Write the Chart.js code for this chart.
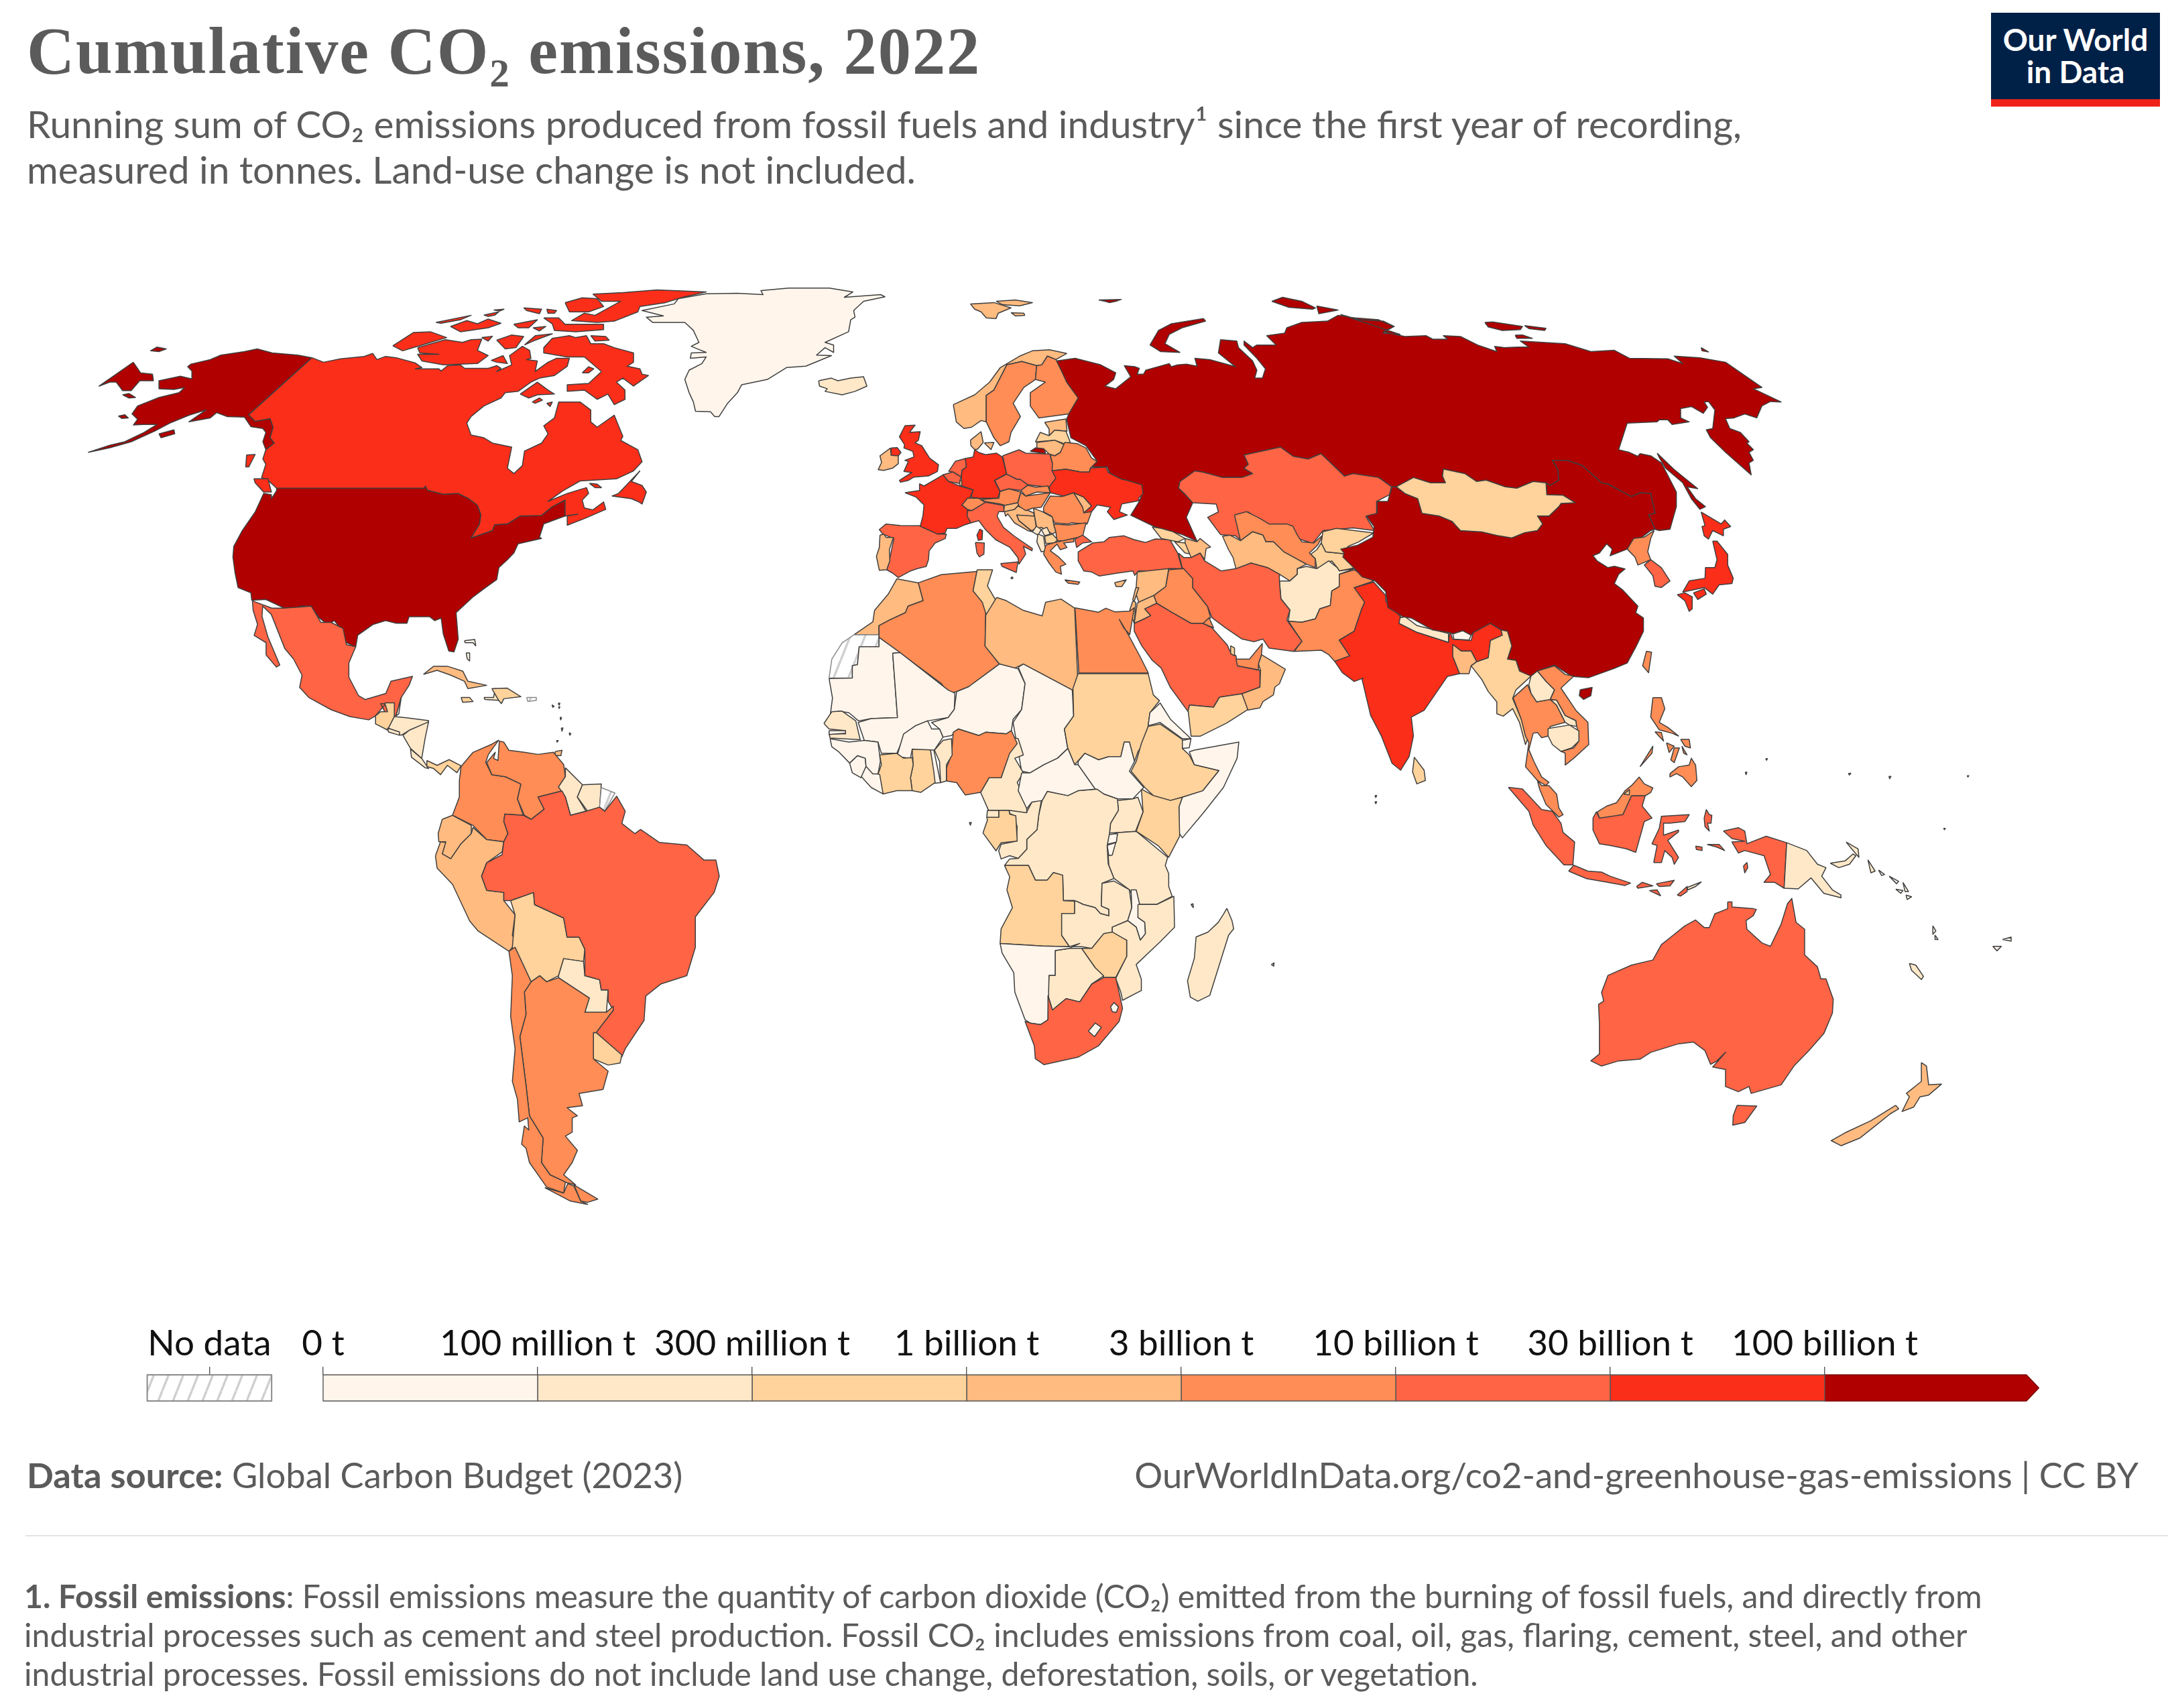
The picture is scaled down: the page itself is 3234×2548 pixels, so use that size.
<!DOCTYPE html>
<html><head><meta charset="utf-8">
<script src="https://cdn.jsdelivr.net/npm/chart.js@4/dist/chart.umd.min.js"></script>
<style>
html,body{margin:0;padding:0;background:#fff;width:3234px;height:2548px;overflow:hidden}
body{position:relative;font-family:Lato,sans-serif;color:#5b5b5b}
.t{position:absolute;white-space:nowrap}
canvas{position:absolute;left:0}
#title{left:40px;top:21px;font:bold 98.5px/110px "Liberation Serif",serif;letter-spacing:1.95px}
#sub{left:40px;top:150px;font-size:56.8px;line-height:68px}
#src{left:40px;top:2170px;font-size:52.5px;line-height:60px}
#url{right:44px;top:2170px;font-size:52.5px;line-height:60px}
#rule{position:absolute;left:38px;right:0;top:2290px;height:2px;background:#e3e3e3}
#note{left:36px;top:2352px;font-size:48.1px;line-height:58px}
#logo{position:absolute;left:2970px;top:19px;width:252px;height:140px;background:#002147;border-bottom:0}
#logo i{position:absolute;left:0;right:0;bottom:0;height:11px;background:#ef2218}
#logo div{position:absolute;left:0;width:100%;text-align:center;color:#fff;font-weight:bold;font-size:46px;line-height:48px}
</style></head><body>
<div class="t" id="title">Cumulative CO₂ emissions, 2022</div>
<div class="t" id="sub">Running sum of CO₂ emissions produced from fossil fuels and industry¹ since the first year of recording,<br>measured in tonnes. Land-use change is not included.</div>
<div id="logo"><div style="top:16px">Our World</div><div style="top:64px">in Data</div><i></i></div>
<canvas id="map" width="3234" height="1520" style="top:380px;width:3234px;height:1520px"></canvas>
<canvas id="leg" width="3234" height="140" style="top:1965px;width:3234px;height:140px"></canvas>
<div class="t" id="src"><b>Data source:</b> Global Carbon Budget (2023)</div>
<div class="t" id="url">OurWorldInData.org/co2-and-greenhouse-gas-emissions | CC BY</div>
<div id="rule"></div>
<div class="t" id="note"><b>1. Fossil emissions</b>: Fossil emissions measure the quantity of carbon dioxide (CO₂) emitted from the burning of fossil fuels, and directly from<br>industrial processes such as cement and steel production. Fossil CO₂ includes emissions from coal, oil, gas, flaring, cement, steel, and other<br>industrial processes. Fossil emissions do not include land use change, deforestation, soils, or vegetation.</div>
<script>
// ---------- legend data ----------
const binLabels=['0 t','100 million t','300 million t','1 billion t','3 billion t','10 billion t','30 billion t','100 billion t'];
const binColors=['#fff5eb','#fee8c8','#ffd39b','#ffbb80','#ff8d55','#ff6445','#fb2e19','#b00000'];
const noDataLabel='No data';
// ---------- traced country outlines: [name, emissions bin (null = no data), outline] ----------
// Outlines are read off the picture, in the units of the survey sheet named at the end of each list or by a letter code inside.
const surveySheets={NA:[100,400,1000,620,1568,1568],EU:[1100,400,1000,620,1568,1568],AS:[2000,400,1000,620,1568,1568],SA:[300,880,800,950,1568,1568],AF:[1200,850,800,760,1568,1568],EC:[1300,600,500,350,1500,1050],OC:[2000,950,1000,800,1568,1568],ME:[1500,700,700,400,1568,1200]};
const northAmerica=[
['USA',7,[490,830,835,830,838,822,843,838,880,853,915,850,940,870,960,895,968,930,965,965,945,1018,995,990,1000,968,1030,965,1060,935,1110,933,1135,900,1165,875,1165,935,1115,965,1105,1015,1110,1020,1055,1040,1045,1075,1030,1100,1010,1130,1005,1175,975,1210,950,1240,910,1300,915,1400,905,1448,893,1445,880,1380,875,1320,860,1330,848,1315,800,1315,795,1340,770,1340,745,1330,715,1345,680,1385,675,1430,650,1410,640,1360,625,1330,610,1345,590,1320,570,1275,545,1275,540,1290,515,1288,465,1250,432,1253,430,1225,400,1205,393,1150,388,1090,390,1050,410,990,440,920,460,850,478,855,478,870,490,840]],
['Alaska',7,[573,338,540,328,480,320,445,305,415,315,360,328,335,345,290,362,282,372,292,388,292,418,265,408,215,425,215,455,250,458,275,450,262,470,215,488,165,520,152,550,165,570,155,592,178,590,210,590,180,620,135,655,100,668,50,695,100,678,150,655,205,615,240,585,285,555,325,535,285,580,335,565,350,545,375,560,415,562,430,598,458,605,465,620,458,655,465,685,485,660,475,640,482,600,475,568,440,578,425,553]],
['Alaska Seward',7,[155,355,172,395,200,400,202,425,170,425,150,462,130,462,115,430,100,430,75,445]],
['St Lawrence',7,[195,312,210,298,232,305,215,315]],['Nunivak',7,[130,478,145,473,160,488,145,490]],['Unimak',7,[120,558,135,553,143,565,128,567]],['Kodiak',7,[215,625,250,610,252,625,220,640]],
['Canada',6,[573,338,600,355,640,342,695,333,715,322,725,345,745,333,770,338,815,358,830,375,815,380,870,380,875,388,890,368,920,365,930,378,985,378,1005,368,1015,378,1005,390,1040,365,1035,330,1065,295,1082,310,1085,340,1075,345,1100,350,1095,390,1125,355,1145,340,1175,340,1170,370,1140,405,1105,415,1085,430,1055,465,1025,470,1015,490,975,520,945,560,935,585,945,630,975,640,995,660,1040,675,1030,755,1045,775,1065,745,1070,690,1110,660,1125,625,1115,595,1140,565,1150,505,1200,505,1225,535,1225,580,1240,600,1280,555,1300,635,1295,650,1335,685,1345,730,1325,765,1285,795,1200,803,1160,840,1125,880,1170,850,1215,828,1220,850,1205,875,1210,905,1230,912,1255,882,1260,910,1210,945,1170,970,1170,935,1195,928,1165,935,1165,875,1135,900,1110,933,1060,935,1030,965,1000,968,995,990,945,1018,965,965,968,930,960,895,940,870,915,850,880,853,843,838,838,822,835,830,490,830,470,800,455,790,465,740,458,720,465,685,485,660,475,640,482,600,475,568,440,578,425,553]],
['Vancouver Is',6,[437,795,470,795,478,845,460,845,440,810]],['Haida Gwaii',6,[420,705,440,703,425,750,418,750]],
['Newfoundland',6,[1340,765,1290,850,1275,860,1320,870,1335,880,1345,890,1355,845,1345,820,1320,805]],['Anticosti',6,[1222,812,1240,815,1250,828,1235,828]],
['Baffin',6,[1115,300,1135,265,1175,255,1190,262,1215,255,1225,285,1255,285,1280,300,1325,320,1325,355,1310,370,1340,380,1345,400,1360,405,1325,445,1300,415,1285,430,1305,460,1305,495,1280,515,1265,475,1240,495,1210,460,1170,465,1170,440,1220,435,1250,390,1210,335,1170,335,1115,320]],
['Ellesmere',6,[1230,98,1300,92,1380,82,1495,90,1440,110,1400,130,1340,145,1335,165,1280,200,1240,205,1180,198,1210,170,1235,178,1295,125,1250,125]],
['Axel Heiberg',6,[1165,130,1205,112,1240,115,1255,145,1220,165,1175,165]],['Devon',6,[1115,188,1150,188,1165,212,1255,212,1255,232,1190,240,1140,235,1135,210]],
['Victoria',6,[820,300,885,270,925,280,945,270,970,268,960,310,985,330,960,360,880,365,830,350,820,325,870,325,825,320]],['Banks',6,[762,293,810,243,850,240,888,262,830,290,785,312]],
['Melville',6,[897,220,935,198,960,210,985,192,1015,208,985,225,920,240]],['Bathurst',6,[863,205,945,178,920,195,875,208]],['Arctic a',6,[975,177,1010,165,1000,178,985,182]],['Arctic b',6,[998,158,1022,155,1012,162]],['Arctic c',6,[1045,212,1100,195,1080,225,1055,225]],['Arctic d',6,[1090,225,1120,220,1105,237]],['Arctic e',6,[1068,150,1110,155,1105,172,1075,160]],['Arctic f',6,[1122,155,1145,160,1140,170,1125,170]],['Somerset',6,[1005,272,1040,252,1068,258,1050,300,1025,305]],['Pr Wales',6,[970,262,995,257,985,275]],['Boothia',6,[1070,290,1095,255,1135,248,1090,275]],['Bylot',6,[1225,255,1260,258,1268,272,1235,275]],['King William',6,[992,348,1020,330,1030,360,1005,355]],['Southampton',6,[1060,475,1100,430,1125,460,1140,475,1100,478,1080,490]],['Coats',6,[1088,505,1105,490,1112,498,1095,510]],['Mansel',6,[1122,510,1135,505,1130,522]],['Pr Charles',6,[1205,395,1220,372,1232,380,1220,395]]
];
const greenlandArea=[
['Greenland',0,['EU',-73,97,-138,115,-148,135,-223,160,-173,180,-213,185,-198,205,-123,205,-103,235,-90,280,-108,295,-93,305,-73,318,-108,320,-110,340,-73,335,-83,360,-113,385,-123,420,-113,470,-103,505,-98,540,-63,542,-53,560,-43,560,-23,510,0,470,10,440,70,420,115,375,160,370,220,330,185,328,205,300,225,318,225,290,205,280,260,240,265,195,275,185,272,160,295,125,345,108,335,100,250,110,270,90,215,75,120,75,55,85,60,100,0,95]],
['Iceland',1,['EU',190,425,220,415,235,425,265,415,295,410,303,445,275,465,245,478,205,465,210,455,192,445]],
['Svalbard',3,['EU',545,135,600,130,640,150,610,170,605,190,582,188,570,165,555,155]],['Svalbard N',3,['EU',605,125,650,120,690,130,660,142,620,138]],['Edgeoya',3,['EU',640,168,670,170,672,178,650,180]]
];
const northernEurasia=[
['Russia',7,['EU',745,350,790,340,850,365,885,395,880,420,860,445,885,455,920,410,905,368,930,372,940,378,935,400,950,400,955,385,1010,360,1015,372,1030,365,1050,362,1075,370,1070,340,1105,345,1165,372,1125,320,1130,270,1168,275,1172,300,1205,350,1215,385,1210,415,1228,415,1235,380,1215,340,1185,290,1185,275,1205,300,1215,290,1260,290,1238,255,1280,245,1285,225,1320,205,1380,200,1405,178,1445,188,1500,195,1535,220,1510,245,1550,250,'AS',0,175,45,195,100,200,125,220,100,240,150,258,200,255,215,268,250,268,240,255,280,258,320,290,365,315,360,295,385,300,415,298,440,298,420,275,525,285,585,315,640,310,675,340,765,342,800,360,780,332,840,338,900,355,985,450,965,455,1030,505,1005,503,985,520,973,565,945,550,920,565,900,568,910,605,935,620,955,655,950,660,965,685,955,695,965,725,955,735,960,780,900,695,865,640,855,610,870,605,875,535,860,503,850,505,858,525,848,548,820,522,795,530,795,565,815,580,775,590,765,572,745,572,740,580,670,585,650,685,675,695,695,710,700,700,725,708,750,735,785,845,785,900,770,985,745,990,735,985,720,930,735,925,725,850,700,848,680,862,625,815,610,810,565,745,530,725,495,725,508,760,510,800,490,820,480,810,450,805,412,830,385,825,340,800,318,805,290,775,240,758,238,785,245,810,210,810,170,790,130,825,120,825,'EU',1530,825,1500,790,1440,775,1420,785,1365,700,1335,720,1300,710,1270,675,1185,705,1195,740,1185,755,1205,775,1180,790,1135,790,1090,770,1070,765,1035,805,1032,830,1045,850,1065,885,1050,940,1075,1030,1040,1005,975,975,920,932,940,880,945,860,945,820,875,790,865,750,830,750,840,725,815,670,780,640,770,570,775,550,795,490,770,430,760,395]],
['Franz Josef',7,['EU',845,120,898,118,885,125,870,130,860,125]],
['Novaya Zemlya',7,['EU',965,290,985,235,1015,210,1090,190,1095,200,1040,225,1010,250,1000,285,1035,318,990,315]],
['Severnaya a',7,['EU',1250,125,1275,110,1320,125,1352,150,1345,155,1290,148]],['Severnaya b',7,['EU',1355,143,1405,158,1360,172]],
['New Siberian a',7,['AS',337,205,355,203,425,220,420,232,378,235,345,222]],['New Siberian b',7,['AS',430,217,480,227,477,235,440,228]],['Lyakhovsky',7,['AS',408,253,425,252,448,265,412,265]],['Wrangel',7,['AS',843,300,860,316,845,312]],
['Sakhalin',7,['AS',740,698,780,760,835,832,810,825,830,870,853,900,840,910,820,870,800,810,760,755,745,715]],
['Norway',3,['EU',505,515,555,478,590,430,615,375,660,332,690,312,730,308,770,322,745,345,725,332,712,365,700,368,665,352,630,365,600,460,582,480,582,580,570,575,548,600,530,605,512,580]],
['Sweden',4,['EU',630,365,665,352,700,368,697,420,670,450,645,510,662,560,640,620,635,655,615,670,600,640,582,580,582,480,600,460]],
['Finland',4,['EU',712,365,725,332,745,345,760,395,770,430,797,490,775,550,705,565,685,520,685,470,720,430,697,420,700,368]],
['Kazakhstan',5,['EU',1035,805,1070,765,1090,770,1135,790,1180,790,1205,775,1185,755,1195,740,1185,705,1270,675,1300,710,1335,720,1365,700,1420,785,1440,775,1500,790,1530,825,1525,855,1495,880,1495,930,1470,938,1490,990,1440,980,1370,990,1345,1040,1330,1030,1300,1015,1280,965,1240,970,1195,920,1165,932,1180,1030,1165,1010,1130,1005,1100,940,1125,920,1120,890,1065,885,1045,850,1032,830]]
];
const europe=[
['Great Britain',6,[150,105,195,103,170,135,218,132,210,170,195,182,225,195,260,250,300,280,295,310,255,330,190,335,165,350,130,358,125,350,180,315,145,310,165,265,150,260,190,245,185,220,145,205,148,190,125,155]],
['N Ireland',6,[88,205,115,203,132,225,120,240,88,238]],['Ireland',3,[85,205,88,238,120,240,120,275,95,295,55,305,30,302,45,270,38,240]],
['Spain',5,[65,545,130,552,218,553,295,590,335,590,330,610,285,630,258,665,255,705,245,735,205,745,175,755,120,785,95,765,68,750,80,710,100,610,50,590,35,570]],
['Portugal',3,[38,595,55,590,65,605,98,605,80,660,82,710,68,750,35,752,22,690,35,650]],
['France',6,[150,405,215,395,215,365,235,375,295,340,320,325,345,355,395,375,455,392,440,430,405,460,430,480,428,510,445,540,415,550,380,565,338,565,330,585,295,590,218,555,230,510,235,460,200,425]],['Corsica',6,[485,568,497,575,495,615,478,618,472,595]],
['Belgium',5,[320,325,365,312,402,335,395,352,402,365,345,355]],['Netherlands',5,[345,310,375,265,420,252,425,290,405,305,402,335,365,312]],['Luxembourg',2,[395,352,408,352,408,373,395,372]],
['Germany',6,[462,212,480,225,510,235,560,228,585,245,605,320,550,350,575,400,565,430,480,430,445,425,455,392,405,375,402,335,405,305,425,290,420,252,455,245]],
['Denmark',3,[443,170,490,132,500,180,475,210,462,212,445,195]],['Zealand',3,[505,182,548,180,535,212]],
['Poland',5,[587,240,660,213,690,228,798,232,810,275,825,340,795,380,700,370,665,345,650,345,605,322]],['Kaliningrad',7,[710,220,735,204,775,208,778,230]],
['Czechia',5,[552,350,605,322,650,345,665,345,700,370,670,395,615,388,575,398]],['Austria',4,[490,435,570,430,575,400,615,388,668,402,655,450,600,462,575,455,510,445]],['Switzerland',4,[405,460,430,430,480,430,510,450,475,470,450,485,430,480]],
['Italy',5,[430,485,450,485,510,448,590,462,595,490,570,490,562,510,590,560,640,600,720,655,718,665,680,645,690,680,660,725,655,695,620,650,555,615,510,570,480,530,445,540,428,510]],['Sardinia',5,[465,628,505,630,503,680,483,692,472,675]],['Sicily',5,[578,722,655,715,648,762,585,735]],
['Slovenia',3,[595,462,655,450,660,458,640,480,608,495,592,490]],['Croatia',3,[595,490,640,480,655,465,725,495,730,515,650,505,660,530,720,580,700,575,640,540,610,500,600,510]],['Bosnia',3,[650,505,730,510,738,565,715,575,660,530]],
['Hungary',4,[655,450,668,405,690,420,800,405,760,470,720,475,690,485,660,465]],['Slovakia',4,[668,395,700,372,735,380,790,375,800,405,740,402,690,420]],
['Romania',4,[770,470,800,420,850,422,905,405,945,470,985,490,965,545,895,540,880,545,820,540,805,510,770,490]],['Moldova',3,[905,405,950,425,985,465,950,495,945,470]],
['Serbia',3,[725,475,765,490,810,515,815,545,825,580,810,590,785,575,760,560,740,565,730,510]],['Bulgaria',4,[815,545,880,550,960,540,950,580,945,600,905,610,860,620,830,620,825,580]],
['Montenegro',1,[720,580,738,555,760,570,745,595]],['Kosovo',1,[760,570,785,560,800,590,775,598]],['Albania',1,[745,590,770,600,775,635,780,665,760,670,740,625]],['N Macedonia',2,[775,600,810,590,832,615,820,630,780,632]],
['Greece',4,[780,640,820,628,905,610,905,625,860,630,875,650,845,660,830,635,800,665,840,695,870,725,845,735,850,770,825,760,795,720,770,680]],
['Turkey Thrace',5,[910,612,945,595,985,625,945,630,918,650]],
['Turkey',5,[925,670,990,630,1040,625,1065,605,1130,598,1175,615,1225,628,1270,612,1335,615,1370,675,1390,745,1335,745,1260,755,1195,755,1178,775,1170,755,1100,765,1020,778,985,760,950,755,925,710]],
['Cyprus',3,[1088,808,1140,795,1120,825,1095,825]],['Crete',4,[865,795,932,805,925,815,880,810]],['Malta',2,[625,783,632,783,632,790,625,790]],
['Estonia',3,[775,90,870,75,875,130,820,125,795,150,795,120]],['Latvia',2,[735,175,755,135,795,150,820,125,870,130,890,180,860,185,820,170,735,178]],['Lithuania',3,[740,180,820,170,862,190,845,225,820,240,795,232,770,208,740,205]],
['Belarus',4,[800,235,820,240,845,225,865,180,920,185,960,205,985,250,1010,265,980,295,975,313,935,312,870,300,808,307,810,275]],
['Ukraine',6,[795,380,825,340,808,307,870,300,935,312,975,313,980,295,1050,290,1060,315,1120,345,1145,350,1210,370,1215,410,1195,430,1200,440,1120,455,1110,490,1145,505,1085,525,1055,490,1070,470,1010,460,985,490,950,495,985,465,950,425,905,405,860,420,800,405]]
];
const westAsia=[
['Uzbekistan',4,[765,205,805,190,850,220,880,245,940,245,960,255,975,295,990,325,1030,330,1060,295,1045,335,1035,350,1015,375,1035,400,1035,440,1005,425,930,370,895,325,870,325,860,295,825,280,785,320]],
['Turkmenistan',3,[735,330,725,300,750,295,785,320,825,280,860,295,870,325,895,325,930,370,1005,425,975,445,975,470,950,500,915,470,875,440,820,420,770,445,760,395,745,360]],
['Tajikistan',2,[1020,380,1040,360,1055,330,1070,370,1130,378,1170,440,1115,455,1108,440,1090,410,1040,445,1035,400]],['Kyrgyzstan',2,[1055,330,1060,280,1105,265,1230,285,1180,325,1145,345,1130,378,1070,370]],
['Afghanistan',1,[915,500,950,500,975,470,975,445,1005,435,1040,445,1080,410,1108,440,1115,455,1165,445,1115,470,1115,525,1090,545,1085,610,1050,625,1035,670,990,685,945,680,950,630,920,580]],
['Pakistan',4,[1115,470,1165,450,1230,500,1165,530,1200,595,1190,625,1165,725,1115,765,1150,835,1100,860,1080,830,1055,810,965,815,990,770,945,680,990,685,1035,670,1050,625,1085,610,1090,545,1115,525]],
['Iran',5,[578,375,595,395,620,395,650,375,665,410,720,455,770,445,820,420,875,440,915,470,915,500,920,580,950,630,940,675,990,770,962,815,880,800,860,760,830,772,790,760,735,710,690,665,675,615,625,530,625,490,590,440]],
['Iraq',4,[595,445,625,490,625,530,675,615,685,665,660,690,620,690,555,640,505,600,495,565,535,525,545,450]],['Syria',3,[440,460,545,445,535,525,495,565,445,595,435,555]],
['Jordan',3,[445,595,495,565,505,600,465,625,485,655,460,672,430,690,440,600]],['Lebanon',3,[435,530,445,530,430,590,425,585]],['Israel',3,[425,590,435,595,430,690,415,630]],
['Saudi Arabia',5,[465,625,505,600,555,640,620,690,660,690,690,710,740,785,750,815,770,835,775,880,850,900,850,975,790,1005,715,1020,695,1065,615,1055,610,1085,550,975,520,890,490,855,455,790,430,725,430,690,460,672,485,655]],
['Kuwait',4,[660,690,680,665,695,710]],['Yemen',2,[610,1080,615,1055,695,1065,715,1020,790,1005,810,1075,740,1135,650,1195,620,1195]],
['Oman',3,[790,1005,850,975,852,900,845,870,855,830,880,850,935,895,915,960,900,975,895,1010,860,1040,850,1068,810,1078]],
['UAE',4,[770,850,815,850,858,780,855,830,845,870,845,898,775,880]],['Qatar',2,[752,790,765,800,765,835,752,825]],
['Egypt',4,[232,620,310,640,335,622,365,638,415,635,430,620,420,700,415,740,395,710,380,672,410,740,450,840,477,912,245,912]],
['Georgia',2,[490,258,520,265,560,280,600,310,575,325,520,310]],['Armenia',2,[565,325,600,330,625,380,600,375]],['Azerbaijan',3,[600,310,640,325,650,310,685,348,670,355,665,405,650,375,620,395,600,330]],
['India',6,[1165,530,1230,505,1270,565,1270,590,1320,660,1315,690,1375,730,1480,775,'AS',252,1410,255,1370,262,1400,305,1405,310,1375,350,1340,375,1365,378,1385,350,1405,345,1470,318,1485,305,1445,282,1445,262,1420,265,1440,262,1465,278,1530,250,1540,'OC',250,115,195,215,165,235,170,290,160,350,140,390,120,370,95,290,70,230,50,125,'ME',1195,935,1165,950,1125,910,1100,860,1150,835,1115,765,1165,725,1190,625,1200,595]],
['Nepal',1,[1318,665,1335,660,1375,700,1480,735,1480,775,1375,730,1315,690]]
];
const eastAsia=[
['China',7,[120,825,130,825,150,850,180,870,190,925,230,935,260,955,280,990,330,995,370,1010,400,1018,430,998,460,990,472,965,460,935,487,935,510,900,515,888,548,885,520,857,482,855,480,812,490,820,510,800,508,760,495,725,530,725,565,745,610,810,625,815,680,862,700,848,725,850,735,925,720,930,735,985,725,990,700,1020,670,1060,630,1085,635,1060,622,1040,605,1075,590,1085,600,1105,625,1130,640,1125,665,1135,650,1155,640,1190,660,1215,695,1275,690,1300,708,1320,708,1370,690,1430,670,1490,640,1510,580,1545,540,1540,500,1498,460,1520,445,1540,420,1525,410,1480,390,1475,400,1425,390,1370,375,1365,350,1340,310,1375,305,1385,285,1368,262,1380,255,1375,215,1365,165,1320,145,1315,110,1280,105,1220,80,1180,50,1165,30,1130,5,1090,8,1075,0,1060,40,1045,75,1015,78,975,60,935,85,925,85,880,110,880]],
['Mongolia',2,[130,825,170,790,210,810,245,810,238,785,240,758,290,775,318,805,340,800,385,825,412,830,450,805,480,810,482,855,520,857,548,885,515,888,510,900,487,935,460,935,472,965,460,990,430,998,400,1018,370,1010,330,995,280,990,260,955,230,935,190,925,180,870,150,850]],
['North Korea',4,[733,990,725,1020,718,1070,725,1100,695,1120,688,1090,670,1060,685,1020,710,1015]],['South Korea',5,[725,1100,750,1130,770,1180,750,1205,735,1200,730,1160,710,1120]],
['Hokkaido',6,[843,920,890,965,898,950,912,975,895,985,895,1010,870,990,860,1022,850,1010,845,975,852,972]],['Honshu',6,[870,1030,880,1030,905,1080,905,1120,918,1170,915,1190,885,1195,870,1230,850,1205,800,1222,815,1180,852,1170,853,1130,875,1130,880,1100]],['Shikoku',6,[825,1225,850,1210,855,1230,835,1250]],['Kyushu',6,[787,1232,805,1225,822,1240,822,1285,815,1295,805,1255]],
['Bangladesh',3,[262,1420,282,1445,305,1445,318,1485,305,1500,300,1530,278,1530,262,1465]],['Bhutan',0,[262,1380,285,1368,305,1385,300,1403,265,1400]],
['Myanmar',2,[375,1365,390,1370,400,1425,390,1475,410,1480,'OC',418,100,445,115,410,155,402,180,422,240,440,290,432,315,418,250,402,210,380,232,365,225,365,190,345,160,330,125,305,85,'AS',318,1485,345,1470,350,1405,378,1385]]
];
const southeastAsiaOceania=[
['Sri Lanka',2,[172,352,195,390,198,420,178,430,168,395]],['Hainan',7,[560,155,588,148,585,172,568,183,558,172]],['Taiwan',4,[715,42,727,45,720,105,706,85]],
['Thailand',4,[403,178,437,140,445,165,458,190,490,183,505,200,525,250,490,262,485,290,470,295,460,280,450,282,440,330,452,365,470,410,487,425,480,435,460,420,432,380,440,310,432,290,422,240]],
['Laos',1,[440,140,445,115,460,100,480,130,500,155,490,183,505,185,525,230,550,245,552,262,535,258,525,250,505,200,490,183,458,190,445,165]],
['Vietnam',4,[460,100,500,85,525,110,545,115,515,150,550,215,578,250,580,315,545,355,525,375,525,340,515,335,545,325,557,305,557,285,552,262,550,245,525,230,505,185,490,183,500,155,480,130]],
['Cambodia',1,[485,268,535,258,557,275,557,305,540,325,515,335,495,315,485,290]],['Malaysia W',4,[460,420,470,435,487,435,505,460,510,500,520,520,510,527,480,490,465,445]],
['Malaysia E',4,[600,512,622,495,645,485,665,450,680,435,698,410,710,430,730,442,725,455,712,465,680,465,660,520,620,530,605,530]],['Brunei',2,[662,460,675,447,675,462]],
['Kalimantan',5,[590,530,598,512,605,530,660,520,680,465,712,465,705,495,728,530,710,540,690,630,668,620,630,610,605,605,590,565]],
['Sumatra',5,[392,440,425,445,470,505,495,510,515,545,520,572,547,600,543,667,522,667,480,610,450,550,440,510]],['Java',5,[533,685,545,668,578,685,610,688,630,700,678,720,665,727,620,717,575,707]],
['Lombok',5,[692,730,705,718,730,728,695,735]],['Flores',5,[738,722,780,712,770,728,745,730]],['Sumba',5,[722,742,740,740,748,757]],['Timor W',5,[787,755,810,730,810,745,795,758]],['Timor-Leste',1,[810,733,843,717,830,730,812,740]],
['Sulawesi',5,[732,660,740,610,728,605,745,560,750,525,815,520,805,540,770,545,755,545,755,580,790,565,790,570,765,595,785,635,790,645,780,665,775,645,758,625,750,660]],['Halmahera',5,[855,505,862,520,868,522,866,545,858,545,862,568,852,555,850,530]],
['Papua',5,[895,568,930,558,945,568,950,605,995,583,1043,602,1037,735,1015,718,990,718,1005,695,990,640,945,625,930,632,915,600,945,598,915,590]],['Buru',5,[830,612,845,615,845,625,832,622]],['Seram',5,[857,607,885,607,898,625,880,615]],['Kai',5,[942,670,950,660,952,675,945,690]],
['PNG',1,[1043,602,1090,625,1115,665,1135,675,1125,700,1150,740,1170,755,1170,763,1130,750,1100,705,1070,737,1037,735]],['New Britain',1,[1145,662,1180,655,1198,635,1205,640,1190,665,1165,675]],['New Ireland',1,[1182,600,1210,620,1212,645,1195,620]],
['Bougainville',1,[1233,652,1250,685,1240,690]],['Solomon a',0,[1258,682,1272,695,1265,698]],['Solomon b',0,[1283,700,1305,715,1300,722]],['Solomon c',0,[1315,718,1328,745,1320,745]],['Solomon d',0,[1298,738,1315,742,1310,750]],['Solomon e',0,[1322,755,1335,760,1325,768]],
['Vanuatu a',0,[1385,845,1392,860,1385,870]],['Vanuatu b',0,[1390,872,1397,885,1390,885]],['Fiji a',0,[1525,905,1545,905,1535,918]],['Fiji b',0,[1548,885,1568,878,1568,890]],['New Caledonia',1,[1330,955,1345,960,1363,993,1358,1002,1335,975]],
['Luzon',4,[730,178,750,178,758,210,745,250,765,265,790,290,775,282,745,272,725,235]],['Mindoro',4,[735,278,750,280,755,305]],['Palawan',4,[700,380,730,320,728,340]],['Samar',4,[795,300,815,300,818,325,805,320]],['Panay',4,[762,310,780,320,768,338]],['Negros',4,[780,325,792,325,780,368,772,360]],['Cebu',4,[798,320,810,345,802,340]],['Mindanao',4,[770,400,790,380,815,375,820,355,830,375,833,420,820,438,800,410,785,400,770,410]],
['Australia',5,[905,775,915,775,915,790,965,795,972,797,965,815,948,830,950,855,985,895,1005,905,1030,840,1045,780,1055,765,1065,835,1085,855,1085,930,1115,965,1123,1000,1135,1000,1152,1060,1150,1100,1130,1160,1095,1210,1060,1255,1030,1310,960,1335,955,1315,930,1330,900,1315,900,1265,870,1258,900,1215,880,1240,865,1250,852,1210,825,1185,790,1190,725,1215,700,1235,650,1240,610,1255,585,1240,605,1220,605,1130,603,1075,615,1065,610,1040,625,990,680,960,730,945,750,900,770,880,805,845,830,828,850,850,862,850,875,810,905,795]],
['Tasmania',5,[927,1370,973,1372,945,1420,917,1428,918,1400]],
['NZ North',3,[1358,1245,1370,1255,1375,1310,1405,1308,1375,1340,1355,1345,1340,1375,1313,1388,1330,1345,1323,1335,1358,1300]],['NZ South',3,[1298,1370,1305,1380,1285,1395,1255,1425,1215,1465,1170,1488,1147,1473,1180,1450,1240,1415]],
['Maldives',0,[80,464,84,464,82,470]],['Maldives b',0,[80,482,84,482,82,488]],['Micronesia a',0,[994,356,998,356,996,361]],['Micronesia b',0,[946,396,950,396,948,403]],['Micronesia c',0,[1187,400,1193,399,1190,404]],['Micronesia d',0,[1282,408,1287,408,1284,415]],['Micronesia e',0,[1465,406,1469,406,1467,410]],['Kiribati',0,[1410,560,1414,560,1412,564]]
];
const latinAmerica=[
['Mexico',5,[150,27,207,45,240,45,290,42,322,40,350,80,380,80,415,95,425,135,452,140,432,180,432,215,460,260,480,270,540,255,555,225,618,213,608,235,585,265,570,310,540,305,525,280,540,280,510,310,490,320,435,312,380,295,315,265,288,240,295,210,270,170,245,145,205,60,180,40,178,65,195,115,230,185,220,190,190,160,190,130,155,112,165,85,152,50]],
['Guatemala',2,[537,278,565,278,565,312,545,345,510,330,510,310,525,300,545,300]],['Belize',0,[570,310,585,265,578,305]],['Honduras',1,[565,312,600,315,665,322,660,340,610,345,585,358,545,345]],['El Salvador',1,[545,340,580,350,580,358,548,350]],['Nicaragua',1,[590,358,610,345,665,325,655,365,645,415,612,390]],['Costa Rica',1,[612,392,645,415,665,440,655,438,615,412]],['Panama',2,[660,420,690,432,725,418,760,433,748,450,720,432,700,455,680,440,660,435]],
['Cuba',3,[650,208,680,188,720,188,765,200,780,225,835,235,780,243,770,225,730,210,690,198]],['Jamaica',2,[760,265,785,265,795,275,765,277]],['Haiti',1,[827,265,855,265,860,243,875,245,870,272,830,270]],['Dominican Rep',2,[850,243,895,242,935,263,885,268,878,280,870,272]],['Puerto Rico',null,[952,265,980,265,980,272,955,275]],['Bahamas a',0,[770,125,800,122,803,138,795,130,772,130]],['Bahamas b',0,[775,155,785,155,785,175,778,170]],['Trinidad',3,[1035,398,1055,395,1052,408,1035,408]],
['Antilles a',0,[1026,283,1032,287,1028,289]],['Antilles b',0,[1044,279,1049,279,1047,284]],['Antilles c',0,[1045,288,1049,288,1047,292]],['Antilles d',0,[1050,313,1054,315,1051,320]],['Antilles e',0,[1053,340,1058,340,1055,348]],['Antilles f',0,[1076,352,1081,354,1078,358]],['Antilles g',0,[1039,371,1044,371,1041,375]],
['Colombia',4,[760,435,795,400,850,380,870,370,840,405,832,425,850,455,890,460,935,478,925,515,942,555,888,552,885,570,897,600,885,620,835,615,795,580,735,555,755,510,755,470]],
['Venezuela',4,[872,372,885,375,900,395,945,400,985,405,1030,400,1060,430,1065,460,1045,485,1055,495,985,510,1003,540,965,565,945,555,925,515,935,478,890,460,850,455,835,425,860,400,855,415,868,420,870,395]],
['Guyana',1,[1065,438,1115,480,1100,510,1125,545,1080,555,1065,510,1045,485,1065,460]],['Suriname',1,[1115,480,1170,478,1165,535,1130,545,1100,510]],['French Guiana',null,[1170,487,1210,500,1180,545,1165,535]],
['Ecuador',3,[705,565,735,555,790,580,790,600,760,625,730,662,705,650,715,620,695,620,693,600]],
['Peru',3,[685,655,700,620,715,622,705,650,730,662,760,625,790,600,795,585,835,615,885,620,880,645,835,672,820,705,835,740,885,745,885,765,918,800,910,850,920,870,900,890,810,840,785,815,735,725,690,685]],
['Bolivia',2,[905,765,972,745,975,775,1060,808,1070,855,1105,855,1122,885,1118,915,1060,908,1045,950,1010,965,990,950,965,965,945,950,910,880,918,800]],
['Paraguay',1,[1045,950,1060,908,1118,915,1122,950,1165,960,1170,985,1190,985,1185,1040,1160,1045,1122,1040,1135,1005,1045,955]],
['Brazil',5,[820,705,835,672,880,652,885,620,897,600,885,570,888,552,942,555,965,565,1003,540,985,510,1055,495,1065,510,1080,555,1125,545,1165,535,1180,545,1215,508,1240,545,1230,575,1268,600,1285,590,1340,622,1420,628,1470,665,1505,665,1515,705,1500,745,1445,805,1445,880,1420,950,1345,970,1300,1000,1295,1060,1240,1130,1230,1150,1155,1090,1205,1035,1190,1013,1190,985,1170,985,1165,960,1122,950,1122,885,1105,855,1070,855,1060,808,975,775,972,745,905,765,885,765,885,745,835,740]],
['Uruguay',2,[1147,1090,1155,1090,1230,1145,1225,1165,1190,1170,1147,1155]],
['Argentina',4,[965,965,990,950,1010,965,1045,955,1135,1005,1122,1040,1185,1040,1205,1025,1205,1035,1155,1090,1147,1090,1147,1155,1190,1185,1175,1230,1105,1240,1115,1270,1070,1275,1100,1295,1085,1300,1085,1335,1065,1345,1100,1380,1085,1410,1060,1440,1095,1465,1070,1460,1020,1440,995,1410,1000,1350,960,1295,950,1220,932,1100,950,1045,945,990]],
['Chile',4,[900,890,918,880,965,965,945,990,950,1045,932,1100,950,1220,960,1295,1000,1350,995,1410,1020,1440,1065,1458,1060,1485,1010,1470,960,1410,950,1375,937,1365,945,1320,958,1330,955,1300,930,1310,925,1255,910,1210,918,1130,905,1050,910,950]],
['Fuego Chile',4,[1005,1472,1060,1485,1072,1462,1090,1468,1110,1505,1130,1513,1080,1505]],['Fuego Argentina',4,[1090,1465,1160,1500,1130,1508,1110,1505]]
];
const africa=[
['Morocco',3,[145,200,200,160,205,125,245,75,270,28,333,40,347,95,303,112,295,132,248,155,218,172,218,200]],['Western Sahara',null,[145,200,218,200,218,237,160,237,155,292,140,295,140,333,72,333,80,275,110,225]],
['Algeria',4,[333,40,400,15,505,5,493,65,520,95,530,125,528,235,570,290,480,360,445,375,422,380,400,350,218,208,218,172,248,155,295,132,303,112,347,95]],['Tunisia',2,[505,0,550,0,535,50,560,95,532,140,520,100,493,65]],
['Libya',3,[562,85,590,95,640,125,695,142,705,100,750,90,790,118,800,360,783,370,640,290,610,305,570,290,528,235,530,140]],
['Mauritania',0,[72,335,140,333,140,295,155,292,160,237,218,237,218,208,280,255,258,257,272,455,195,458,158,465,130,440,100,435,75,450,82,395]],
['Mali',0,[258,257,280,255,420,370,440,380,438,430,420,455,360,465,325,480,295,505,270,565,225,565,215,530,175,525,157,470,195,458,272,455]],
['Niger',0,[445,375,480,360,570,290,625,305,645,350,635,430,610,460,605,495,590,505,530,500,510,510,450,490,430,510,405,515,395,490,372,470,420,455,438,430]],
['Chad',0,[625,300,640,290,783,370,787,450,760,490,770,550,740,580,700,600,660,625,635,620,610,470,635,430,645,350]],
['Sudan',2,[785,365,800,320,1005,320,1020,385,1038,403,1010,440,1000,520,975,560,965,590,950,530,935,530,925,575,890,575,860,585,820,565,790,600,770,550,760,490,787,450]],
['South Sudan',0,[800,590,820,565,860,585,890,575,925,575,935,530,950,530,965,590,950,620,992,670,960,705,915,705,875,690,850,675,800,600]],['Eritrea',0,[1010,440,1040,410,1070,460,1130,520,1105,520,1040,470,1005,480]],
['Ethiopia',2,[1005,482,1040,475,1105,522,1105,550,1125,570,1140,600,1212,618,1165,680,1105,700,1070,710,1020,695,995,670,955,620,970,590,985,535]],['Djibouti',0,[1105,525,1130,520,1125,548,1105,550]],
['Somalia',0,[1125,560,1140,555,1270,530,1265,580,1225,670,1165,750,1105,825,1095,810,1095,730,1105,700,1165,680,1212,618,1140,600]],
['Kenya',2,[985,675,1020,695,1070,710,1105,700,1095,730,1097,820,1065,885,1035,850,970,805,990,745]],['Uganda',1,[915,710,960,705,975,700,990,745,968,805,905,810,892,810,895,780,918,740]],
['Tanzania',1,[905,810,970,805,1062,885,1055,910,1065,935,1065,975,1075,1005,1030,1030,975,1030,950,985,905,950,890,910,888,880,910,840,915,815]],['Rwanda',0,[890,815,915,812,912,838,885,845]],['Burundi',0,[885,848,910,840,900,878,890,880]],
['DR Congo',1,[710,682,770,695,800,680,855,675,875,690,915,705,918,740,895,780,892,810,885,850,888,905,905,950,870,965,868,1035,890,1045,890,1065,865,1058,850,1040,815,1030,795,1020,757,1018,755,940,728,932,710,955,675,955,655,910,585,910,600,890,625,888,650,860,650,830,680,800,685,755,695,710]],
['Congo',1,[598,740,650,745,665,715,693,708,685,755,680,800,650,830,650,860,625,888,600,880,575,890,568,865,575,845,620,835,622,790,610,755,600,750]],['Gabon',2,[533,762,568,762,568,740,598,740,600,752,618,757,622,835,575,840,560,865,522,810,535,770]],['Eq Guinea',1,[535,740,568,740,568,762,533,762]],
['Cameroon',1,[605,515,625,520,640,570,615,580,640,625,622,655,650,715,650,748,598,740,538,740,515,685,540,640,575,640,600,560]],['CAR',0,[635,625,660,625,700,600,740,580,770,550,790,600,800,600,850,675,800,680,770,695,710,682,695,710,665,715,650,735,625,680]],
['Nigeria',4,[415,650,415,610,430,570,435,500,450,490,510,510,530,500,590,505,605,495,622,535,600,565,575,640,540,640,515,685,470,693,445,655]],
['Togo',0,[368,553,378,553,398,655,380,657,375,610]],['Benin',1,[380,555,405,525,430,520,432,570,415,600,415,650,398,655,395,590]],['Ghana',2,[315,552,368,552,378,620,382,655,340,685,315,680,310,640,318,600]],['Burkina Faso',0,[270,575,290,505,325,480,360,465,372,490,395,490,405,515,380,555,315,552,310,580]],
['Ivory Coast',2,[220,570,270,565,290,580,315,578,318,600,310,640,315,680,270,680,230,690,215,630,225,600]],['Liberia',0,[165,635,180,605,200,625,220,630,230,690,195,670]],['Sierra Leone',0,[132,595,155,572,178,580,180,605,165,640,140,625]],['Guinea',0,[75,520,130,530,175,525,215,530,222,590,215,628,200,628,180,605,178,580,155,572,132,595,100,560,80,545]],
['Senegal',1,[57,473,80,437,110,435,150,465,163,523,75,518,72,505,120,505,120,495,72,490]],['Gambia',0,[72,495,120,495,120,503,72,507]],
['Angola',2,[585,910,655,910,675,955,710,955,728,932,755,940,757,1018,790,1018,790,1058,752,1058,752,1125,775,1160,695,1158,572,1150,575,1105,608,1040,592,985,600,945]],
['Zambia',1,[757,1018,795,1020,815,1030,850,1040,865,1058,890,1065,890,1045,868,1035,870,965,905,958,950,985,957,1040,945,1080,900,1100,900,1118,875,1120,840,1165,810,1160,775,1160,752,1125,752,1058,790,1058,790,1018]],
['Malawi',0,[955,985,970,985,980,1030,975,1070,995,1085,997,1120,982,1140,970,1100,945,1080,957,1040]],
['Mozambique',1,[975,1030,1030,1030,1080,1005,1082,1100,1040,1145,970,1215,985,1260,985,1295,930,1325,925,1300,910,1258,942,1190,942,1140,900,1118,900,1100,945,1080,970,1100,982,1140,997,1120,995,1085,975,1070]],
['Zimbabwe',2,[810,1165,840,1165,875,1120,900,1115,942,1140,942,1190,910,1255,875,1255,850,1225]],['Botswana',1,[733,1172,775,1165,810,1165,850,1225,875,1250,840,1275,805,1330,765,1320,725,1355,712,1310,715,1248,733,1248]],
['Namibia',0,[572,1150,695,1158,775,1160,805,1150,775,1165,733,1172,733,1248,715,1248,712,1385,690,1400,660,1395,645,1385,615,1300,612,1240,578,1180]],
['South Africa',5,[712,1310,725,1355,765,1320,805,1330,840,1275,875,1255,910,1255,920,1300,930,1350,920,1390,860,1465,800,1500,700,1523,675,1505,672,1465,645,1390,660,1395,690,1400,712,1385]],
['Lesotho',0,[830,1420,850,1395,868,1408,848,1437]],['Eswatini',0,[895,1345,905,1332,918,1345,912,1362,900,1360]],
['Madagascar',1,[1235,1042,1250,1080,1255,1105,1240,1125,1185,1310,1150,1328,1128,1315,1120,1265,1140,1195,1145,1130,1180,1115,1210,1085,1225,1060]],
['Sao Tome',0,[482,778,488,778,485,786]],['Comoros',0,[1130,1030,1136,1028,1137,1040]],['Mauritius',0,[1365,1215,1373,1210,1372,1220]]
];
// ---------- helpers ----------
function hatch(){
  const c=document.createElement('canvas');c.width=22;c.height=55;
  const g=c.getContext('2d');g.fillStyle='#fff';g.fillRect(0,0,22,55);
  g.strokeStyle='#cfcfcf';g.lineWidth=3.4;
  [[0,55,22,0],[-22,55,0,0],[22,55,44,0]].forEach(l=>{g.beginPath();g.moveTo(l[0],l[1]);g.lineTo(l[2],l[3]);g.stroke();});
  return g.createPattern(c,'repeat');
}
const noDataFill=hatch();
function toPoints(list,sheet){
  let s=surveySheets[sheet],out=[];
  for(let i=0;i<list.length;){
    if(typeof list[i]==='string'){s=surveySheets[list[i]];i++;continue;}
    out.push({x:s[0]+list[i]*s[2]/s[4],y:s[1]+list[i+1]*s[3]/s[5]});i+=2;
  }
  out.push(out[0]);return out;
}
const poly=(name,bin,pts)=>({label:name,data:pts,showLine:true,fill:'shape',tension:0,pointRadius:0,pointHoverRadius:0,
  backgroundColor:bin===null?noDataFill:binColors[bin],borderColor:bin===null?'#8a8a8a':'#3f3f3f',borderWidth:1.5,borderJoinStyle:'round',clip:false});
const groups=[[northernEurasia,'EU'],[northAmerica,'NA'],[greenlandArea,'EU'],[europe,'EC'],[westAsia,'ME'],[eastAsia,'AS'],[southeastAsiaOceania,'OC'],[latinAmerica,'SA'],[africa,'AF']];
const mapSets=[];
groups.forEach(([arr,sheet])=>arr.forEach(([n,b,l])=>mapSets.push(poly(n,b,toPoints(l,sheet)))));
mapSets.reverse(); // earlier shapes are painted underneath
const quiet={animation:false,responsive:false,devicePixelRatio:1,events:[],plugins:{legend:{display:false},tooltip:{enabled:false},title:{display:false}}};
new Chart(document.getElementById('map'),{type:'scatter',data:{datasets:mapSets},options:{...quiet,layout:{padding:0},
  scales:{x:{type:'linear',min:0,max:3234,display:false},y:{type:'linear',min:380,max:1900,reverse:true,display:false}}}});
// ---------- colour legend (x axis in bin numbers) ----------
const noDataSpan=[-0.82,-0.24];
const tipLength=0.058, lastEnd=binColors.length-0.06;
const tickValues=[(noDataSpan[0]+noDataSpan[1])/2,...binLabels.map((_,i)=>i)];
const tickText=[noDataLabel,...binLabels];
const rect=(a,b)=>[{x:a,y:0},{x:b,y:0},{x:b,y:1},{x:a,y:1},{x:a,y:0}];
const legSets=[];
legSets.push({...poly(noDataLabel,null,rect(noDataSpan[0],noDataSpan[1])),borderWidth:2});
binColors.forEach((c,i)=>{
  const last=i===binColors.length-1;
  const pts=last?[{x:i,y:0},{x:lastEnd,y:0},{x:lastEnd+tipLength,y:.5},{x:lastEnd,y:1},{x:i,y:1},{x:i,y:0}]:rect(i,i+1);
  legSets.push({...poly(binLabels[i],i,pts),borderColor:last?'#7a0000':'#555',borderWidth:1.4});
});
new Chart(document.getElementById('leg'),{type:'scatter',data:{datasets:legSets},options:{...quiet,layout:{padding:{left:0,right:0,top:0,bottom:15}},
  scales:{
    x:{type:'linear',position:'top',min:-1.50625,max:8.6,
      afterBuildTicks:s=>{s.ticks=tickValues.map(v=>({value:v}));},
      afterFit:s=>{s.height=86;},
      border:{display:false},
      grid:{drawOnChartArea:false,drawTicks:true,tickLength:12,color:'#555',lineWidth:1.4},
      ticks:{autoSkip:false,maxRotation:0,minRotation:0,padding:2,color:'#111',font:{family:'Lato',size:53},
        callback:(v,i)=>tickText[i]}},
    y:{type:'linear',min:0,max:1,display:false}
  }}});
</script>
</body></html>
